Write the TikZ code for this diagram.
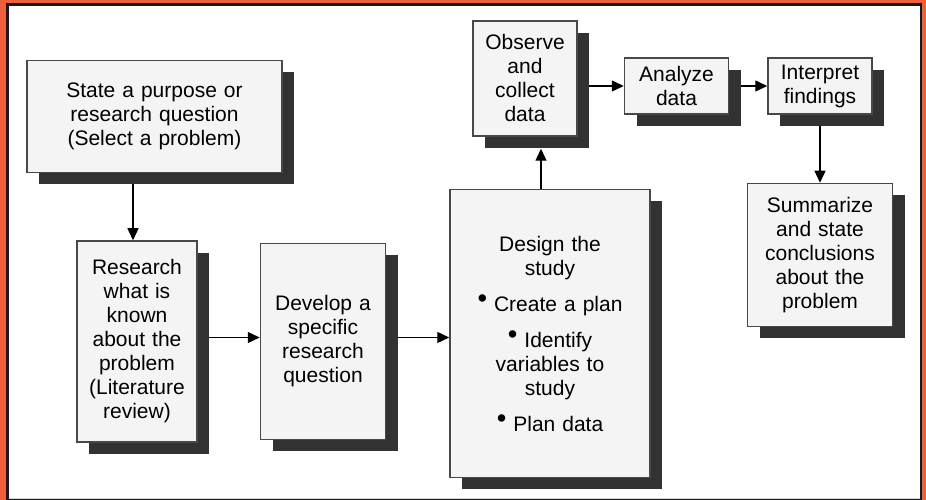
\documentclass[tikz,border=0pt]{standalone}
\usepackage{fontspec}
\setmainfont{Liberation Sans}
\usetikzlibrary{arrows.meta}
\usetikzlibrary{shadows,backgrounds}
\usetikzlibrary{positioning}
\definecolor{frameorange}{RGB}{238,96,60}
\definecolor{boxfill}{RGB}{244,244,244}
\definecolor{boxline}{RGB}{72,72,72}
\definecolor{boxshade}{RGB}{50,50,50}
\tikzset{>={Triangle[length=12pt,width=11pt]},
  stepbox/.style={draw=boxline,line width=1.5pt,fill=boxfill,
    align=center,inner sep=4pt,text=black,
    font=\fontsize{21}{24}\selectfont,
    drop shadow={shadow xshift=12pt,shadow yshift=-12pt,opacity=1,fill=boxshade}},
  flow/.style={->,line width=1.4pt}}
\newcommand{\stepdot}{\raisebox{.3ex}{\scalebox{1.3}{\textbullet}}\ }

\begin{document}
\begin{tikzpicture}[x=1pt,y=1pt]
    \useasboundingbox (0,0) rectangle (926,500);
    \begin{scope}[on background layer]
      \fill[frameorange] (0,0) rectangle (926,500);
      \fill[black!90] (6,0) rectangle (922,496.5);
      \fill[white] (8.5,2) rectangle (920,494);
      \draw[black!15,line width=1pt] (8.5,1.5) -- (920,1.5);
    \end{scope}

    \node[stepbox,text width=112pt,minimum height=201pt] (research) at (137,158.5)
      {Research\\what is\\known\\about the\\problem\\(Literature\\review)};
    \node[stepbox,text width=247pt,minimum height=112pt] (purpose) [above=67pt of research,xshift=17.5pt]
      {State a purpose or\\research question\\(Select a problem)};
    \node[stepbox,text width=117pt,minimum height=196pt] (develop) [right=62pt of research]
      {Develop a\\specific\\research\\question};
    \node[stepbox,text width=192pt,minimum height=288pt] (design) [right=63pt of develop,yshift=8pt]
      {Design the\\study\\[12pt]\stepdot Create a plan\\[12pt]\stepdot Identify\\variables to\\study\\[12pt]\stepdot Plan data};
    \node[stepbox,text width=96pt,minimum height=115pt] (observe) [above=52pt of design,xshift=-25pt]
      {Observe\\and\\collect\\data};
    \node[stepbox,text width=96pt,minimum height=56pt] (analyze) [right=46pt of observe,yshift=-7.5pt]
      {Analyze\\data};
    \node[stepbox,text width=96pt,minimum height=56pt] (interpret) [right=38pt of analyze]
      {Interpret\\findings};
    \node[stepbox,text width=137pt,minimum height=143pt] (summarize) [below=68pt of interpret]
      {Summarize\\and state\\conclusions\\about the\\problem};

    \begin{scope}[on background layer]
      \draw[flow] (purpose.south -| research.north) ++(-4,0) -- ([xshift=-4pt]research.north);
      \draw[flow] ([yshift=4pt]research.east) -- ([yshift=4pt]research.east -| develop.west);
      \draw[flow] ([yshift=4pt]develop.east) -- ([yshift=4pt]develop.east -| design.west);
      \draw[flow,shorten >=12pt] ([xshift=-9pt]design.north) -- ([xshift=-9pt]design.north |- observe.south);
      \draw[flow] (observe.east |- analyze.west) -- (analyze.west);
      \draw[flow] (analyze) -- (interpret);
      \draw[flow] (interpret) -- (summarize);
    \end{scope}
\end{tikzpicture}
\end{document}
